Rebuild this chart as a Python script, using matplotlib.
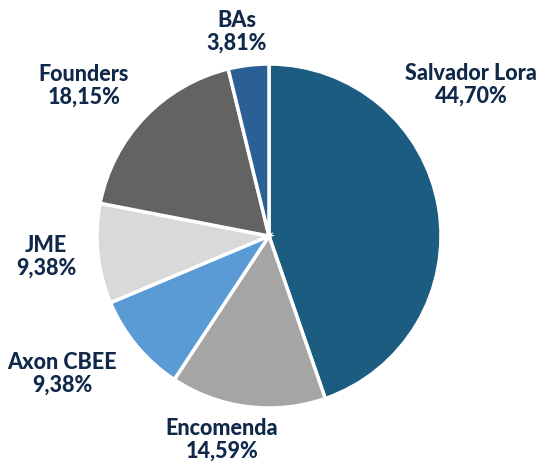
import matplotlib.pyplot as plt

# data to plot
names = ['Salvador Lora', 'Encomenda', 'Axon CBEE', 'JME', 'Founders', 'BAs']
shares = [44.70, 14.59, 9.38, 9.38, 18.15, 3.81]
colors = ['#1b5c80', '#a5a5a5', '#5b9bd5', '#d9d9d9', '#636363', '#2a6096']
# label centres (in pie radius units)
label_pos = [(1.174, 0.878), (-0.273, -1.186), (-1.203, -0.802),
             (-1.297, -0.122), (-1.076, 0.872), (-0.186, 1.186)]

plt.rcParams['font.family'] = ['Lato', 'DejaVu Sans']

fig = plt.figure(figsize=(5.37, 4.61), dpi=100)
r_px = 172
ax = fig.add_axes([(269 - r_px) / 537, (461 - 236 - r_px) / 461,
                   2 * r_px / 537, 2 * r_px / 461])
ax.pie(shares, colors=colors, startangle=90, counterclock=False,
       wedgeprops=dict(edgecolor='white', linewidth=2.5))
ax.set_xlim(-1, 1)
ax.set_ylim(-1, 1)
ax.set_aspect('equal')
ax.axis('off')

for name, share, (x, y) in zip(names, shares, label_pos):
    txt = name + '\n' + f'{share:.2f}'.replace('.', ',') + '%'
    ax.text(x, y, txt, ha='center', va='center', fontsize=15.5,
            fontweight='black', color='#10294a', linespacing=1.12,
            clip_on=False)

fig.savefig('out.png', dpi=100)
